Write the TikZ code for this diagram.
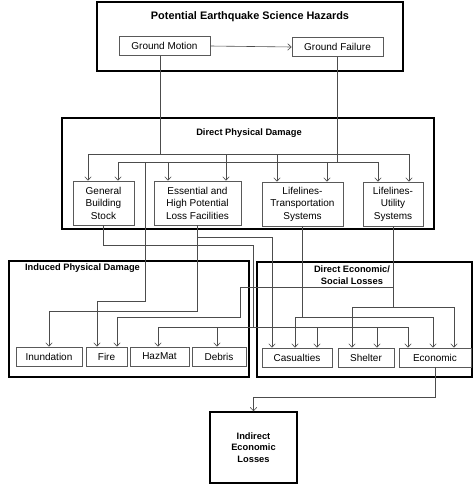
\documentclass[tikz,border=0pt]{standalone}
\usepackage{fontspec}
\setmainfont{Liberation Sans}
\usetikzlibrary{positioning, arrows.meta}

\begin{document}
\begin{tikzpicture}[
  x=1pt, y=-1pt,
  font=\fontsize{10}{12.5}\selectfont,
  frame/.style={draw=black, line width=1.4pt, inner sep=0pt},
  unit/.style={draw=black!65, line width=0.7pt, align=center, inner sep=1pt,
               minimum height=19pt},
  heading/.style={font=\fontsize{9.3}{11.5}\selectfont\bfseries, align=center},
  wire/.style={draw=black!70, line width=0.6pt},
  flow/.style={wire, -{Straight Barb[length=3.5pt, width=6.5pt]}}
]
\useasboundingbox (0,0) rectangle (474,485);

% outer frames
\node[frame, minimum width=306pt, minimum height=69pt]  (hazframe)  at (250,36.5) {};
\node[frame, minimum width=372pt, minimum height=111pt] (dpdframe)  at (248,173.5) {};
\node[frame, minimum width=240pt, minimum height=116pt] (ipdframe)  at (129,319) {};
\node[frame, minimum width=215pt, minimum height=115pt] (delframe)  at (364.5,319.5) {};
\node[frame, minimum width=87pt, minimum height=71pt, heading] (indirect) at (253.5,447.5)
  {Indirect\\Economic\\Losses};

% headings
\node[heading, font=\fontsize{10.9}{13}\selectfont\bfseries] (hazhead) at (250,17)
  {Potential Earthquake Science Hazards};
\node[heading] (dpdhead) at (249,133) {Direct Physical Damage};
\node[heading] (ipdhead) at (82.5,268) {Induced Physical Damage};
\node[heading] (delhead) at (352,275) {Direct Economic/\\Social Losses};

% hazards
\node[unit, minimum width=91pt] (gm) at (164.5,46) {Ground Motion};
\node[unit, minimum width=91pt] (gf) at (337.5,47) {Ground Failure};

% direct physical damage
\node[unit, minimum width=61pt, minimum height=44pt] (gbs) at (103.5,203)
  {General\\Building\\Stock};
\node[unit, minimum width=87pt, minimum height=44pt] (ess) at (197.5,203)
  {Essential and\\High Potential\\Loss Facilities};
\node[unit, minimum width=81pt, minimum height=44pt] (lt) at (302.5,204)
  {Lifelines-\\Transportation\\Systems};
\node[unit, minimum width=60pt, minimum height=44pt] (lu) at (393,204)
  {Lifelines-\\Utility\\Systems};

% induced physical damage
\node[unit, minimum width=66pt] (inund)  at (49,356.5)    {Inundation};
\node[unit, minimum width=41pt] (fire)   at (106.5,356.5) {Fire};
\node[unit, minimum width=59pt] (hazmat) at (159.5,356.5) {HazMat};
\node[unit, minimum width=54pt] (debris) at (219,356.5)   {Debris};

% direct economic / social losses
\node[unit, minimum width=70pt] (cas)     at (297,357.5) {Casualties};
\node[unit, minimum width=56pt] (shelter) at (366,357.5) {Shelter};
\node[unit, minimum width=72pt] (econ)    at (435,357.5) {Economic};

% ground motion and ground failure
\draw[flow] (gm.east) -- (gf.west);
\draw[wire] ([xshift=-4.5pt]gm.south) -- ++(0,98) coordinate (jm);
\draw[wire] (gf.south) -- ++(0,105) coordinate (jf);
\draw[flow] (jm) -| ([xshift=-15.5pt]gbs.north);
\draw[flow] (jm) -| ([xshift=28.5pt]ess.north);
\draw[flow] (jm) -| ([xshift=-25.5pt]lt.north);
\draw[flow] (jm) -| ([xshift=16pt]lu.north);
\draw[flow] (jf) -| ([xshift=14.5pt]gbs.north);
\draw[flow] (jf) -| ([xshift=-29.5pt]ess.north);
\draw[flow] (jf) -| ([xshift=24.5pt]lt.north);
\draw[flow] (jf) -| ([xshift=-15pt]lu.north);
\draw[flow] (jf) -| (145,301) -| ([xshift=-9.5pt]fire.north);

% building stock
\draw[wire] (gbs.south) |- (253,245) -- (253,327) coordinate (jg);
\draw[flow] (jg) -| ([xshift=-1.5pt]hazmat.north);
\draw[flow] (jg) -| ([xshift=-2pt]debris.north);
\draw[flow] (jg) -| ([xshift=20pt]cas.north);
\draw[flow] (jg) -| ([xshift=11pt]shelter.north);
\draw[flow] (jg) -| ([xshift=-27pt]econ.north);

% essential facilities
\draw[flow] (ess.south) -- ++(0,86) -| (inund.north);
\draw[flow] (ess.south) ++(0,12) -| ([xshift=-25pt]cas.north);

% transportation
\draw[wire] (lt.south) -- ++(0,91) coordinate (jt);
\draw[flow] (jt) -| ([xshift=-2pt]cas.north);
\draw[flow] (jt) -| ([xshift=-2pt]econ.north);

% utility
\draw[wire] (lu.south) -- ++(0,81) coordinate (ju);
\draw[flow] (ju) -| ([xshift=-14pt]shelter.north);
\draw[flow] (ju) -| ([xshift=19pt]econ.north);
\draw[flow] (lu.south) ++(0,61) -| (240,317) -| ([xshift=10.5pt]fire.north);

% indirect losses
\draw[flow] (econ.south) -- ++(0,30) -| (indirect.north);
\end{tikzpicture}
\end{document}
